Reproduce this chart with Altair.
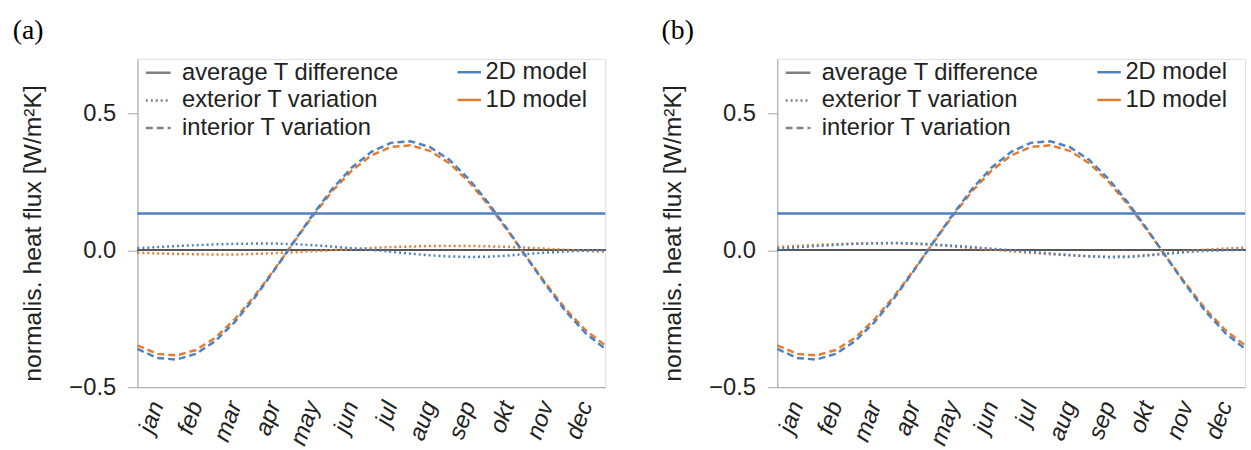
import altair as alt
import pandas as pd

months = ["jan", "feb", "mar", "apr", "may", "jun", "jul", "aug", "sep", "okt", "nov", "dec"]
month_centers = [0.5, 1.5, 2.5, 3.5, 4.5, 5.5, 6.5, 7.5, 8.5, 9.5, 10.5, 11.5]
y_ticks = [-0.5, 0.0, 0.5]

# time axis in months (half-month samples)
t = [0, 0.5, 1, 1.5, 2, 2.5, 3, 3.5, 4, 4.5, 5, 5.5, 6, 6.5, 7, 7.5, 8, 8.5, 9, 9.5, 10, 10.5, 11, 11.5, 12]
t_avg = [0, 12]

# average T difference (both panels; 1D lies exactly under 2D)
avg_2d = [0.135, 0.135]

# interior T variation (dashed)
int_2d = [-0.360, -0.393, -0.399, -0.378, -0.331, -0.261, -0.174, -0.075, 0.029, 0.131, 0.225, 0.303, 0.360,
          0.393, 0.399, 0.378, 0.331, 0.261, 0.174, 0.075, -0.029, -0.131, -0.225, -0.303, -0.360]
int_1d = [-0.347, -0.378, -0.384, -0.364, -0.319, -0.251, -0.167, -0.072, 0.028, 0.126, 0.217, 0.292, 0.347,
          0.378, 0.384, 0.364, 0.319, 0.251, 0.167, 0.072, -0.028, -0.126, -0.217, -0.292, -0.347]

# exterior T variation (dotted), panel (a)
ext_2d_a = [0.008, 0.012, 0.016, 0.019, 0.022, 0.024, 0.025, 0.025, 0.023, 0.019, 0.014, 0.008, 0.002,
            -0.005, -0.012, -0.018, -0.022, -0.024, -0.023, -0.019, -0.013, -0.008, -0.004, -0.001, 0.001]
ext_1d_a = [-0.008, -0.011, -0.013, -0.014, -0.015, -0.015, -0.013, -0.010, -0.007, -0.003, 0.001, 0.005, 0.009,
            0.012, 0.014, 0.016, 0.016, 0.016, 0.015, 0.013, 0.010, 0.006, 0.002, -0.002, -0.005]

# exterior T variation (dotted), panel (b)
ext_2d_b = [0.006, 0.011, 0.016, 0.020, 0.024, 0.026, 0.027, 0.026, 0.022, 0.017, 0.012, 0.006, 0.001,
            -0.005, -0.011, -0.017, -0.022, -0.025, -0.024, -0.019, -0.012, -0.006, -0.002, 0.001, 0.003]
ext_1d_b = [0.012, 0.016, 0.020, 0.023, 0.025, 0.026, 0.026, 0.024, 0.020, 0.015, 0.009, 0.003, -0.003,
            -0.009, -0.014, -0.018, -0.021, -0.023, -0.022, -0.017, -0.010, -0.003, 0.003, 0.007, 0.010]

KINDS = ["average T difference", "exterior T variation", "interior T variation"]
MODELS = ["2D model", "1D model"]
BLUE = "#4f81c2"
ORANGE = "#e67c2e"
FONT = "Liberation Sans"


def frame(series):
    rows = []
    for model, kind, xs, ys in series:
        for x, y in zip(xs, ys):
            rows.append({"t": x, "v": y, "model": model, "kind": kind, "key": model + "|" + kind})
    return pd.DataFrame(rows)


df_a = frame([
    ("1D model", KINDS[1], t, ext_1d_a), ("1D model", KINDS[2], t, int_1d),
    ("2D model", KINDS[0], t_avg, avg_2d), ("2D model", KINDS[1], t, ext_2d_a), ("2D model", KINDS[2], t, int_2d),
])
df_b = frame([
    ("1D model", KINDS[1], t, ext_1d_b), ("1D model", KINDS[2], t, int_1d),
    ("2D model", KINDS[0], t_avg, avg_2d), ("2D model", KINDS[1], t, ext_2d_b), ("2D model", KINDS[2], t, int_2d),
])

label_expr = "[" + ",".join("'%s'" % m for m in months) + "][floor(datum.value)]"


def panel(df, title, dx):
    x = alt.X("t:Q", scale=alt.Scale(domain=[0, 12], nice=False, zero=False),
              axis=alt.Axis(values=month_centers, labelExpr=label_expr, title=None, ticks=False, grid=False,
                            labelAngle=-70, labelAlign="right", labelBaseline="middle", labelFontStyle="italic",
                            labelFontSize=24, labelFont=FONT, labelColor="#222222", labelPadding=15,
                            domainColor="#a6a6a6", labelOverlap=False, labelFlush=False))
    y = alt.Y("v:Q", scale=alt.Scale(domain=[-0.5, 0.7], nice=False, zero=False),
              axis=alt.Axis(values=y_ticks, format=".1f", title="normalis. heat flux [W/m²K]", grid=False,
                            tickSize=10, tickColor="#a6a6a6", domainColor="#a6a6a6", labelFontSize=24,
                            labelFont=FONT, labelColor="#222222", labelPadding=12, titleFont=FONT,
                            titleFontSize=25, titleFontWeight="normal", titleColor="#222222", titlePadding=24,
                            titleY=176))
    color = alt.Color("model:N", scale=alt.Scale(domain=MODELS, range=[BLUE, ORANGE]),
                      legend=alt.Legend(title=None, orient="none", legendX=322, legendY=0, symbolType="stroke",
                                        symbolSize=560, symbolStrokeWidth=2.5, labelFont=FONT, labelFontSize=24,
                                        labelColor="#222222", labelOffset=3, rowPadding=2, padding=0,
                                        labelLimit=400))
    dash = alt.StrokeDash("kind:N", scale=alt.Scale(domain=KINDS, range=[[1, 0], [2, 3], [7, 4]]),
                          legend=alt.Legend(title=None, orient="none", legendX=7, legendY=0, symbolType="stroke",
                                            symbolSize=625, symbolStrokeWidth=2.5, symbolStrokeColor="#808080",
                                            labelFont=FONT, labelFontSize=24, labelColor="#222222",
                                            labelOffset=10, rowPadding=2, padding=0, labelLimit=400))
    zero = alt.Chart(df).mark_rule(color="#595959", strokeWidth=1).encode(y=alt.datum(0))
    l1 = alt.Chart(df).transform_filter("datum.model == '1D model'").mark_line(strokeWidth=2.5).encode(
        x=x, y=y, color=color, strokeDash=dash, detail="key:N")
    l2 = alt.Chart(df).transform_filter("datum.model == '2D model'").mark_line(strokeWidth=2.5).encode(
        x=x, y=y, color=color, strokeDash=dash, detail="key:N")
    return alt.layer(zero, l1, l2).properties(
        width=473, height=332,
        title=alt.Title(title, anchor="start", frame="group", dx=dx, font="Liberation Serif", fontSize=28,
                        fontWeight="normal", color="black", offset=14))


chart = alt.hconcat(panel(df_a, "(a)", -126), panel(df_b, "(b)", -117), spacing=49).resolve_scale(
    color="independent", strokeDash="independent"
).resolve_legend(
    color="independent", strokeDash="independent"
).properties(
    padding={"left": 12, "top": 14, "right": 0, "bottom": 0}
).configure_view(stroke="#a6a6a6", strokeWidth=1).configure(background="white")

chart.save("out.html", embed_options={"renderer": "svg", "actions": False})
